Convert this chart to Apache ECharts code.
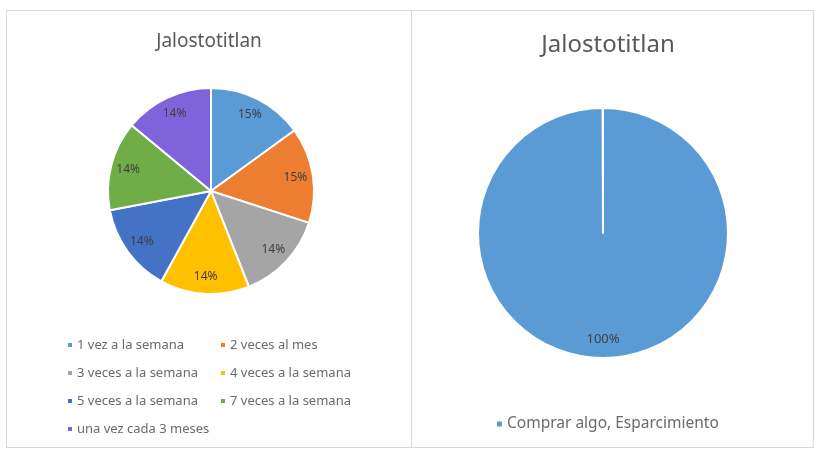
<!DOCTYPE html>
<html>
<head>
<meta charset="utf-8">
<script src="https://cdn.jsdelivr.net/npm/echarts@6/dist/echarts.min.js"></script>
<style>
  html, body { margin: 0; padding: 0; background: #fff; }
  .box { position: absolute; border: 1px solid #d9d9d9; background: #fff; }
  #left { left: 6px; top: 10px; width: 404px; height: 436px; }
  #right { left: 411px; top: 10px; width: 401px; height: 436px; }
</style>
</head>
<body>
<div id="left" class="box"></div>
<div id="right" class="box"></div>
<script>
  var titleText = 'Jalostotitlan'

  // grafica izquierda: frecuencia
  var freqNames = [
    '1 vez a la semana',
    '2 veces al mes',
    '3 veces a la semana',
    '4 veces a la semana',
    '5 veces a la semana',
    '7 veces a la semana',
    'una vez cada 3 meses'
  ]
  var freqValues = [15, 15, 14, 14, 14, 14, 14]
  var freqColors = ['#5B9BD5', '#ED7D31', '#A5A5A5', '#FFC000', '#4472C4', '#70AD47', '#7F63DA']

  // grafica derecha: motivo
  var motivoNames = ['Comprar algo, Esparcimiento']
  var motivoValues = [100]
  var motivoColors = ['#5B9BD5']

  var font = '"Noto Sans", sans-serif'

  function pieData(names, values) {
    return names.map(function (n, i) {
      return { name: n, value: values[i] }
    })
  }

  var leftChart = echarts.init(document.getElementById('left'))
  var leftData = pieData(freqNames, freqValues)
  var legendCommon = {
    orient: 'vertical',
    top: 321,
    itemWidth: 6,
    itemHeight: 6,
    itemGap: 12,
    icon: 'rect',
    textStyle: { color: '#6a6a6a', fontSize: 13, fontFamily: font, lineHeight: 16, padding: [0, 0, 0, -1] }
  }
  leftChart.setOption({
    color: freqColors,
    title: {
      text: titleText,
      left: 'center',
      top: 16,
      textStyle: { color: '#595959', fontSize: 19, fontWeight: 'normal', fontFamily: font }
    },
    legend: [
      Object.assign({}, legendCommon, { left: 54, data: [freqNames[0], freqNames[2], freqNames[4], freqNames[6]] }),
      Object.assign({}, legendCommon, { left: 207, data: [freqNames[1], freqNames[3], freqNames[5]] })
    ],
    series: [
      {
        type: 'pie',
        center: [204, 180],
        radius: [0, 103],
        startAngle: 90,
        clockwise: true,
        label: { show: false },
        labelLine: { show: false },
        itemStyle: { borderColor: '#fff', borderWidth: 2 },
        emphasis: { disabled: true },
        data: leftData
      },
      {
        // anillo transparente solo para colocar las etiquetas
        type: 'pie',
        center: [204, 180],
        radius: [62, 103],
        startAngle: 90,
        clockwise: true,
        silent: true,
        itemStyle: { color: 'transparent' },
        label: {
          show: true,
          position: 'inside',
          formatter: '{d}%',
          color: '#404040',
          fontSize: 12,
          fontFamily: font
        },
        labelLine: { show: false },
        emphasis: { disabled: true },
        data: leftData
      }
    ]
  })

  var rightChart = echarts.init(document.getElementById('right'))
  var rightData = pieData(motivoNames, motivoValues)
  rightChart.setOption({
    color: motivoColors,
    title: {
      text: titleText,
      left: 191,
      textAlign: 'center',
      top: 17,
      textStyle: { color: '#595959', fontSize: 24, fontWeight: 'normal', fontFamily: font }
    },
    legend: {
      left: 78,
      top: 400,
      itemWidth: 7,
      itemHeight: 7,
      icon: 'rect',
      textStyle: { color: '#6a6a6a', fontSize: 15.5, fontFamily: font, padding: [0, 0, 0, -1] },
      data: motivoNames
    },
    series: [
      {
        type: 'pie',
        center: [191, 222],
        radius: [0, 125],
        startAngle: 90,
        endAngle: -269.8,
        clockwise: true,
        label: { show: false },
        labelLine: { show: false },
        itemStyle: { borderColor: '#fff', borderWidth: 2 },
        emphasis: { disabled: true },
        data: rightData
      },
      {
        type: 'pie',
        center: [191, 222],
        radius: [81, 125],
        startAngle: 90,
        clockwise: true,
        silent: true,
        itemStyle: { color: 'transparent' },
        label: {
          show: true,
          position: 'inside',
          formatter: '{d}%',
          color: '#404040',
          fontSize: 13,
          fontFamily: font
        },
        labelLine: { show: false },
        emphasis: { disabled: true },
        data: rightData
      }
    ]
  })
</script>
</body>
</html>
